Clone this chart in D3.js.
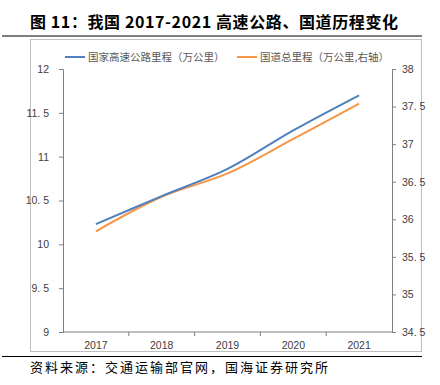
<!DOCTYPE html>
<html>
<head>
<meta charset="utf-8">
<script src="https://cdn.jsdelivr.net/npm/d3@7"></script>
<style>
body { margin: 0; background: #fff; }
svg { display: block; }
</style>
</head>
<body>
<div id="chart"></div>
<script>
var years = ['2017', '2018', '2019', '2020', '2021'];
var expressway = [10.23, 10.55, 10.86, 11.30, 11.70];
var national_road = [35.84, 36.30, 36.61, 37.07, 37.54];
var left_ticks = [9, 9.5, 10, 10.5, 11, 11.5, 12];
var right_ticks = [34.5, 35, 35.5, 36, 36.5, 37, 37.5, 38];

var width = 440, height = 385;
var font = "'Noto Sans CJK SC', sans-serif";

var svg = d3.select('#chart').append('svg')
	.attr('width', width)
	.attr('height', height);

// titulo
svg.append('text')
	.attr('x', 30).attr('y', 28)
	.attr('font-family', font)
	.attr('font-size', 16)
	.attr('font-weight', 'bold')
	.attr('letter-spacing', 0.6)
	.attr('fill', '#000')
	.text('图 11：我国 2017-2021 高速公路、国道历程变化');

svg.append('line')
	.attr('x1', 2).attr('x2', 422)
	.attr('y1', 36).attr('y2', 36)
	.attr('stroke', '#000').attr('stroke-width', 1.2);

// marco del grafico
svg.append('rect')
	.attr('x', 30.5).attr('y', 39.5)
	.attr('width', 391).attr('height', 312)
	.attr('fill', 'none')
	.attr('stroke', '#bfbfbf');

svg.append('line')
	.attr('x1', 2).attr('x2', 422)
	.attr('y1', 356.5).attr('y2', 356.5)
	.attr('stroke', '#000').attr('stroke-width', 1.2);

svg.append('text')
	.attr('x', 30).attr('y', 372)
	.attr('font-family', font)
	.attr('font-size', 13)
	.attr('letter-spacing', 2)
	.attr('fill', '#000')
	.text('资料来源：交通运输部官网，国海证券研究所');

/* ---------- escalas ---------- */
var x_scale = d3.scaleBand()
	.domain(years)
	.range([63, 392]);

var y_left = d3.scaleLinear()
	.domain([9, 12])
	.range([332, 69]);

var y_right = d3.scaleLinear()
	.domain([34.5, 38])
	.range([332, 69]);

function fmt(d) {
	return String(d).replace('.', '. ');
}

var left_axis = d3.axisLeft(y_left).tickValues(left_ticks).tickSize(4).tickPadding(10).tickFormat(fmt);
var right_axis = d3.axisRight(y_right).tickValues(right_ticks).tickSize(4).tickPadding(6).tickFormat(fmt);
var x_axis = d3.axisBottom(x_scale).tickSize(0).tickPadding(10);

function style_axis(g) {
	g.select('.domain').attr('stroke', '#7f7f7f');
	g.selectAll('.tick line').attr('stroke', '#7f7f7f');
	g.selectAll('.tick text')
		.attr('fill', '#404040')
		.attr('font-family', "'Liberation Sans', Arial, sans-serif")
		.attr('font-size', 10.5);
}

svg.append('g')
	.attr('transform', 'translate(63,0)')
	.call(left_axis)
	.call(style_axis);

svg.append('g')
	.attr('transform', 'translate(392,0)')
	.call(right_axis)
	.call(style_axis);

var gx = svg.append('g')
	.attr('transform', 'translate(0,332)')
	.call(x_axis)
	.call(style_axis);
gx.select('.domain').attr('d', 'M63,0H392');

// marcas entre categorias
gx.selectAll('.sep')
	.data(years.slice(1))
	.enter()
	.append('line')
		.attr('class', 'sep')
		.attr('x1', function(d) { return x_scale(d); })
		.attr('x2', function(d) { return x_scale(d); })
		.attr('y1', 0).attr('y2', 4)
		.attr('stroke', '#7f7f7f');

/* ---------- lineas ---------- */
function cx(i) { return x_scale(years[i]) + x_scale.bandwidth() / 2; }

var line_left = d3.line()
	.x(function(d, i) { return cx(i); })
	.y(function(d) { return y_left(d); })
	.curve(d3.curveCatmullRom.alpha(0.5));

var line_right = d3.line()
	.x(function(d, i) { return cx(i); })
	.y(function(d) { return y_right(d); })
	.curve(d3.curveCatmullRom.alpha(0.5));

svg.append('path')
	.attr('d', line_right(national_road))
	.attr('fill', 'none')
	.attr('stroke', '#f79646')
	.attr('stroke-width', 2);

svg.append('path')
	.attr('d', line_left(expressway))
	.attr('fill', 'none')
	.attr('stroke', '#4f81bd')
	.attr('stroke-width', 2);

/* ---------- leyenda ---------- */
var legend = [
	{label: '国家高速公路里程（万公里）', color: '#4f81bd', x: 65},
	{label: '国道总里程（万公里,右轴）', color: '#f79646', x: 237}
];

var lg = svg.selectAll('.legend')
	.data(legend)
	.enter()
	.append('g')
		.attr('class', 'legend')
		.attr('transform', function(d) { return 'translate(' + d.x + ',57)'; });

lg.append('line')
	.attr('x1', 0).attr('x2', 20)
	.attr('stroke', function(d) { return d.color; })
	.attr('stroke-width', 2);

lg.append('text')
	.attr('x', 23).attr('y', 4)
	.attr('font-family', font)
	.attr('font-size', 10.5)
	.attr('fill', '#595959')
	.text(function(d) { return d.label; });
</script>
</body>
</html>
